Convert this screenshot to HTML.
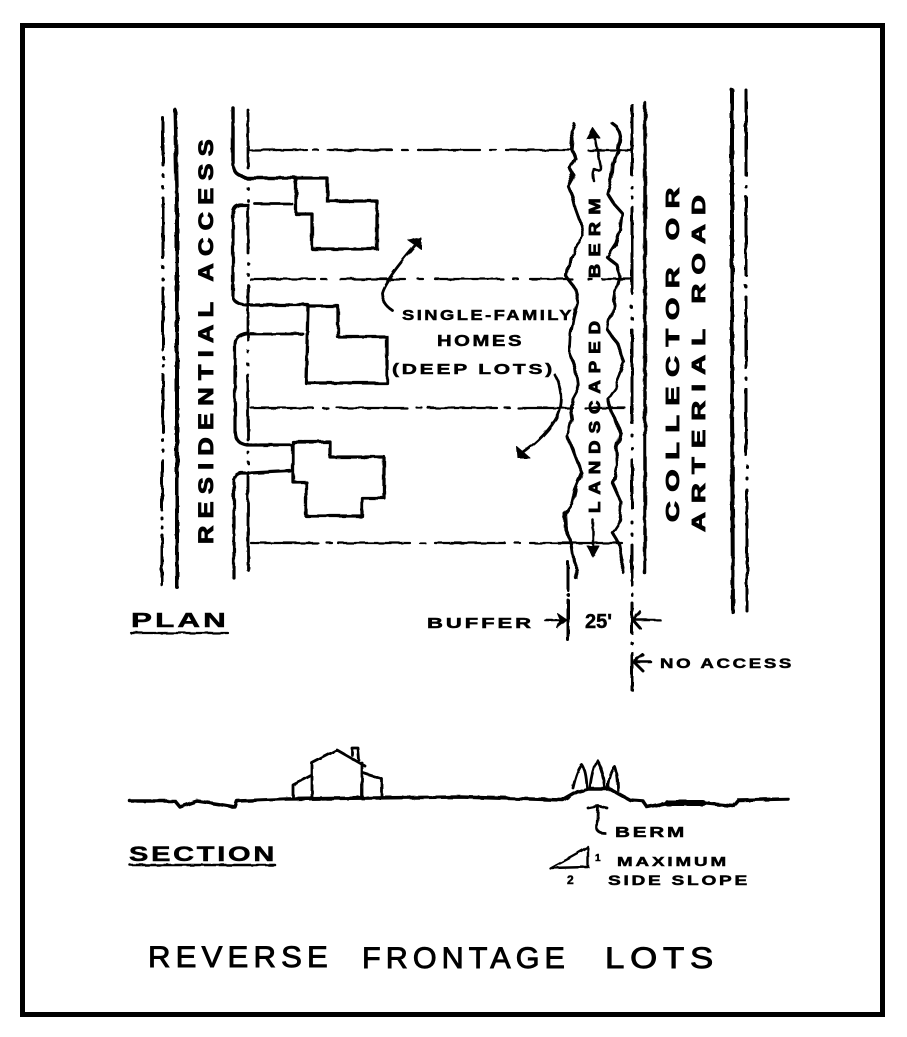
<!DOCTYPE html>
<html><head><meta charset="utf-8"><style>
html,body{margin:0;padding:0;background:#fff}
svg{display:block}
text{font-family:"Liberation Sans",sans-serif;fill:#000;font-weight:bold;stroke:#000;stroke-width:.5}
.w{font-weight:normal;stroke-width:.9;letter-spacing:5px}
.s{letter-spacing:2px}
.v{letter-spacing:6px;stroke-width:.9}
</style></head><body>
<svg width="907" height="1037" viewBox="0 0 907 1037" xmlns="http://www.w3.org/2000/svg">
<defs>
<filter id="r" x="0" y="0" width="907" height="1037" filterUnits="userSpaceOnUse"><feTurbulence type="fractalNoise" baseFrequency="0.09" numOctaves="2" seed="4"/><feDisplacementMap in="SourceGraphic" scale="3"/></filter>
<filter id="q" x="0" y="0" width="907" height="1037" filterUnits="userSpaceOnUse"><feTurbulence type="fractalNoise" baseFrequency="0.06" numOctaves="2" seed="9"/><feDisplacementMap in="SourceGraphic" scale="7"/></filter>
</defs>
<rect x="0" y="0" width="907" height="1037" fill="#fff"/>
<rect x="22.500" y="25.500" width="860" height="989" fill="none" stroke="#000" stroke-width="5"/>
<g filter="url(#r)">
<g fill="none" stroke="#000" stroke-width="3" stroke-linecap="round" stroke-linejoin="round">
<!-- left road -->
<path d="M163 118V165M163 175V176M163 187V188M163 198V258M163 267V268M163 279V280M163 288V350M163 357V358M163 365V366M163 375V432M163 440V441M163 450V451M162 460V510M162 518V519M162 527V528M162 535V585" stroke-width="3"/>
<path d="M175 110L177 200V587" stroke-width="4"/>
<!-- residential curb segments -->
<path d="M233 108V165Q234 176 247 178H296" stroke-width="3.500"/>
<path d="M248 205H240Q233 206 233 214V296Q233 304 247 305H308" stroke-width="3.200"/>
<path d="M248 333Q240 334 237 338Q235 340 235 346V432Q235 443 247 445H293" stroke-width="3.200"/>
<path d="M290 471L250 473H241Q234 474 234 482V578" stroke-width="3.200"/>
<path d="M255 204H292M250 334H303" stroke-width="2.800"/>
<!-- dash-dot x=247 -->
<path d="M248 110V168M248 188V189M248 200V201M248 205V253M248 263V264M248 274V275M248 285V340M248 351V352M248 364V365M248 375V440M248 452V453M248 462V463M248 472V570" stroke-width="2.800"/>
<!-- houses -->
<path d="M296 178H327V201H377V249H312V214H296Z" stroke-width="3.300"/>
<path d="M308 306H338V337H387V383H306Z" stroke-width="3.300"/>
<path d="M293 442H330V457H384V498H362V516H306V482H293Z" stroke-width="3.300"/>
<!-- lot lines -->
<path d="M250 150H307M313 150H318M328 150H392M402 150H408M418 150H480M490 150H496M506 150H572M588 150H632" stroke-width="2.200"/>
<path d="M250 279H315M321 279H326M340 279H405M418 279H423M435 279H503M513 279H518M530 279H572M588 279H592M602 279H630" stroke-width="2.200"/>
<path d="M251 408H313M323 408H328M337 408H407M417 408H422M428 408H497M505 408H510M518 408H573M585 408H625" stroke-width="2.200"/>
<path d="M251 543H318M327 543H332M338 543H410M420 543H425M435 543H505M515 543H520M530 543H622" stroke-width="2.200"/>
<!-- right road -->
<path d="M632 105V175M632 187V188M632 197V198M632 207V293M632 307V308M632 318V319M632 330V423M632 435V436M632 448V449M632 460V508M632 522V523M632 534V535M632 545V585M632 594V595M632 603V633M632 643V644M632 653V690" stroke-width="3"/>
<path d="M645 103V573" stroke-width="3.500"/>
<path d="M732 90V400L733 612" stroke-width="4"/>
<path d="M746 90V175M746 186V187M746 197V275M746 286V287M746 297V368M746 378V379M746 389V455M747 466V467M747 478V479M747 490V611" stroke-width="3"/>
<!-- buffer dim -->
<path d="M568 562V590M568 594V595M568 600V640" stroke-width="3"/>
<!-- buffer inner arrows -->
<path d="M594 132L601 168Q601 172 595 170Q592 172 594 181" stroke-width="2.500"/>
<path d="M593 520V552" stroke-width="2.500"/>
<!-- pointer arrows -->
<path d="M418 242Q385 280 382 293Q383 305 392 310" stroke-width="2.800"/>
<path d="M555 375Q566 395 558 415Q548 435 520 455" stroke-width="2.800"/>
<!-- underlines -->
<path d="M131 633H228" stroke-width="2.200"/>
<path d="M130 865H275" stroke-width="2.500"/>
<!-- dim arrows -->
<path d="M545 620H565M660 620H635M651 662H635" stroke-width="2.500"/>
<path d="M640 612L633 620L640 628M643 655L634 662L643 671" stroke-width="3"/>
<!-- section ground -->
<path d="M130 801H175L180 807L197 801L217 804L235 807L237 801L287 799L460 797L530 799L563 800L577 792L588 789H610L630 800L643 801L647 807L667 803H703L733 806L738 800L788 799" stroke-width="3.500"/>
<path d="M667 803H703" stroke-width="6"/>
<!-- section house -->
<path d="M293 798V785L312 775M312 798V763L337 750L365 766M362 798V763M363 773L382 779V798M352 755V748H358L359 760" stroke-width="2.800"/>
<!-- trees -->
<path d="M573 788Q577 770 582 765Q586 770 587 787M590 787Q592 770 597 760Q603 770 605 787M608 788Q610 772 615 767Q618 775 618 790" stroke-width="2.800"/>
<!-- berm arrow -->
<path d="M588 808L598 806L607 808M598 807L597 828Q597 833 605 833" stroke-width="2.800"/>
<!-- slope triangle -->
<path d="M550 868L572 856L588 847V867Z" stroke-width="2.400"/>
</g>
<g fill="#000" stroke="#000" stroke-width="1" stroke-linejoin="round">
<polygon points="593,128 587,139 600,138"/>
<polygon points="593,557 587,546 599,546"/>
<polygon points="421,238 408,240 421,249"/>
<polygon points="518,458 517,447 530,458"/>
<polygon points="567,620 557,613 560,620 557,628"/>
</g>
</g>
<g filter="url(#q)" fill="none" stroke="#000" stroke-linecap="round" stroke-linejoin="round">
<path d="M575 125L572 131 573 140 572 150 575 158 570 168 574 175 568 186 572 196 575 208 580 222 583 237 574 248 570 258 567 277 574 288 578 303 574 318 571 335 570 353 575 368 577 383 577 392 570 405 572 420 568 437 573 450 582 473 575 490 572 503 565 513 566 530 572 545 575 565 576 578" stroke-width="3.200"/>
<path d="M612 123L618 128 620 136 618 150 613 165 612 178 608 194 615 205 622 213 620 230 616 243 607 257 617 265 620 277 615 295 612 312 608 330 616 342 620 350 625 363 616 385 607 398 612 412 620 433 616 450 617 465 613 483 622 503 620 520 612 532 620 545 623 560 622 571" stroke-width="3.200"/>
</g>
<text class="v" transform="translate(213,544) rotate(-90)" font-size="21" textLength="412" lengthAdjust="spacingAndGlyphs">RESIDENTIAL ACCESS</text>
<text class="s" x="402" y="320" font-size="15" textLength="172" lengthAdjust="spacingAndGlyphs">SINGLE-FAMILY</text>
<text class="s" x="437" y="346" font-size="16" textLength="87" lengthAdjust="spacingAndGlyphs">HOMES</text>
<text class="s" x="392" y="374" font-size="15" textLength="163" lengthAdjust="spacingAndGlyphs">(DEEP LOTS)</text>
<text class="v" transform="translate(600,278) rotate(-90)" font-size="16" textLength="87" lengthAdjust="spacingAndGlyphs">BERM</text>
<text class="v" transform="translate(600,513) rotate(-90)" font-size="16" textLength="199" lengthAdjust="spacingAndGlyphs">LANDSCAPED</text>
<text class="v" transform="translate(679,522) rotate(-90)" font-size="18" textLength="344" lengthAdjust="spacingAndGlyphs">COLLECTOR OR</text>
<text class="v" transform="translate(705,532) rotate(-90)" font-size="18" textLength="346" lengthAdjust="spacingAndGlyphs">ARTERIAL ROAD</text>
<text class="s" x="131" y="627" font-size="20" textLength="98" lengthAdjust="spacingAndGlyphs">PLAN</text>
<text class="s" x="427" y="628" font-size="15" textLength="107" lengthAdjust="spacingAndGlyphs">BUFFER</text>
<text x="585" y="628" font-size="20" textLength="27" lengthAdjust="spacingAndGlyphs">25'</text>
<text class="s" x="660" y="668" font-size="14" textLength="134" lengthAdjust="spacingAndGlyphs">NO ACCESS</text>
<text class="s" x="129" y="861" font-size="21" textLength="148" lengthAdjust="spacingAndGlyphs">SECTION</text>
<text class="s" x="615" y="837" font-size="15" textLength="72" lengthAdjust="spacingAndGlyphs">BERM</text>
<text x="595" y="861" font-size="10">1</text>
<text class="s" x="617" y="866" font-size="13" textLength="112" lengthAdjust="spacingAndGlyphs">MAXIMUM</text>
<text x="567" y="884" font-size="12">2</text>
<text class="s" x="608" y="885" font-size="14" textLength="142" lengthAdjust="spacingAndGlyphs">SIDE SLOPE</text>
<text class="w" x="148" y="967" font-size="30" textLength="185" lengthAdjust="spacingAndGlyphs">REVERSE</text>
<text class="w" x="362" y="968" font-size="30" textLength="208" lengthAdjust="spacingAndGlyphs">FRONTAGE</text>
<text class="w" x="605" y="968" font-size="30" textLength="114" lengthAdjust="spacingAndGlyphs">LOTS</text>
</svg>
</body></html>
